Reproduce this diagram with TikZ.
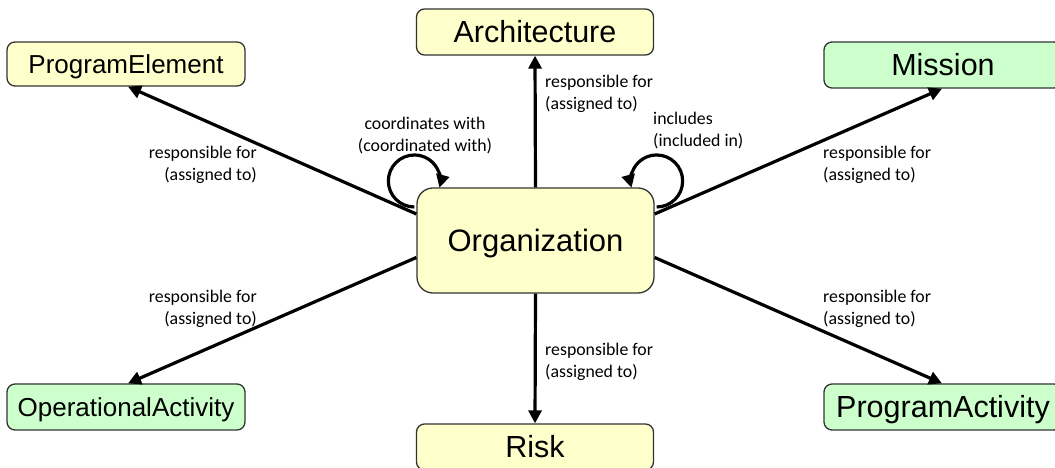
\documentclass[tikz,border=0pt]{standalone}
\usepackage{fontspec}
\setmainfont{Liberation Sans}
\newfontfamily\labfont{Carlito}
\usetikzlibrary{arrows.meta}
\definecolor{boxyellow}{HTML}{FFFFCC}
\definecolor{boxgreen}{HTML}{CCFFCC}
\definecolor{boxline}{HTML}{333333}
\begin{document}
\begin{tikzpicture}[x=1pt,y=1pt,
  box/.style={draw=boxline, line width=1.3pt, rounded corners=8pt,
    minimum width=237pt, minimum height=46pt, inner sep=0pt,
    font=\fontsize{30.5}{36}\selectfont, text height=21.8pt, text depth=0pt},
  ybox/.style={box, fill=boxyellow},
  gbox/.style={box, fill=boxgreen},
  smallbox/.style={font=\fontsize{26}{31}\selectfont, text height=18.6pt},
  rel/.style={line width=3.2pt, -{Triangle[length=13pt,width=13pt]}},
  lab/.style={font=\labfont\fontsize{17.8}{22}\selectfont, inner sep=0pt},
]
\useasboundingbox (0,0) rectangle (1055,468);

\node[ybox, minimum width=237pt, minimum height=105pt, rounded corners=16pt,
      font=\fontsize{31}{37}\selectfont, text height=22.2pt] (org) at (535.5,227.5) {Organization};
\node[ybox] (arch) at (535,436) {Architecture};
\node[ybox] (risk) at (535,21) {Risk};
\node[ybox, smallbox, minimum width=238pt, minimum height=44pt] (pe) at (126,404) {ProgramElement};
\node[gbox, smallbox, minimum width=238pt] (oa) at (126,61) {OperationalActivity};
\node[gbox, minimum width=238pt] (mis) at (943,403) {Mission};
\node[gbox, minimum width=238pt] (pa) at (943,61) {ProgramActivity};

\draw[rel] (org.north) -- (arch.south);
\draw[rel] (org.south) -- (risk.north);
\draw[rel] ([yshift=26.5pt]org.west) -- ([xshift=2pt]pe.south);
\draw[rel] ([yshift=-17pt]org.west) -- ([xshift=2pt]oa.north);
\draw[rel] ([yshift=26.5pt]org.east) -- ([xshift=-1pt]mis.south);
\draw[rel] ([yshift=-17pt]org.east) -- ([xshift=-1pt]pa.north);

\draw[rel] ([xshift=-2pt,yshift=33.5pt]org.west) arc[start angle=270, end angle=-15, radius=26];
\draw[rel] ([xshift=2pt,yshift=33.5pt]org.east) arc[start angle=270, end angle=555, radius=26];

\node[lab, anchor=base west, align=left] (lArch) at (545,358) {responsible for\\(assigned to)};
\node[lab, anchor=base east, align=right] (lPE) at (257,287) {responsible for\\(assigned to)};
\node[lab, anchor=base, align=center] (lCo) at (425,316) {coordinates with\\(coordinated with)};
\node[lab, anchor=base west, align=left] (lInc) at (653,321) {includes\\(included in)};
\node[lab, anchor=base west, align=left] (lMis) at (823,287) {responsible for\\(assigned to)};
\node[lab, anchor=base east, align=right] (lOA) at (257,143) {responsible for\\(assigned to)};
\node[lab, anchor=base west, align=left] (lPA) at (823,143) {responsible for\\(assigned to)};
\node[lab, anchor=base west, align=left] (lRisk) at (545,90) {responsible for\\(assigned to)};
\end{tikzpicture}
\end{document}
